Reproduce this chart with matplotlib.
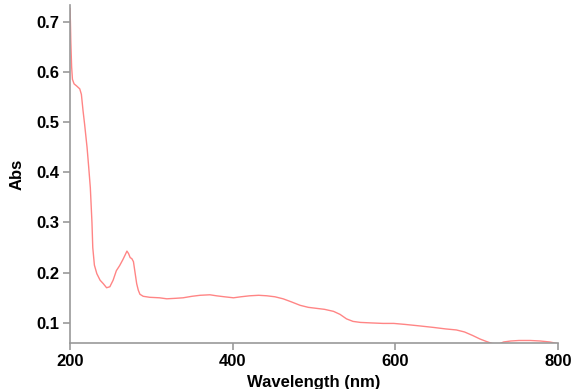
import matplotlib.pyplot as plt

plt.rcParams['font.family'] = ['Liberation Sans', 'DejaVu Sans']

# wavelength (nm) and absorbance
wavelength = [200, 200.5, 201, 202, 203, 205, 208, 212, 214, 216, 218, 221, 223,
              225, 227, 228, 230, 233, 237, 241, 245, 249, 253, 257, 261, 265,
              268, 270, 272, 274, 276, 278, 280, 282, 284, 286, 290, 298, 310,
              319, 330, 339, 350, 360, 372, 380, 390, 401, 410, 421, 432, 442,
              452, 462, 472, 483, 493, 503, 513, 524, 532, 540, 548, 557, 570,
              585, 598, 612, 630, 647, 662, 675, 685, 695, 704, 712, 719, 725,
              729, 733, 742, 752, 766, 778, 790, 799]
absorbance = [0.726, 0.70, 0.66, 0.61, 0.585, 0.576, 0.572, 0.566, 0.555, 0.523,
              0.495, 0.449, 0.41, 0.369, 0.30, 0.25, 0.215, 0.198, 0.185, 0.178,
              0.170, 0.172, 0.185, 0.204, 0.214, 0.226, 0.236, 0.243, 0.238,
              0.230, 0.228, 0.222, 0.20, 0.178, 0.165, 0.157, 0.153, 0.151,
              0.150, 0.148, 0.149, 0.150, 0.153, 0.155, 0.156, 0.154, 0.152,
              0.150, 0.152, 0.154, 0.155, 0.154, 0.152, 0.148, 0.142, 0.135,
              0.131, 0.129, 0.127, 0.123, 0.117, 0.108, 0.103, 0.101, 0.100,
              0.099, 0.099, 0.097, 0.094, 0.091, 0.088, 0.086, 0.082, 0.075,
              0.068, 0.063, 0.059, 0.057, 0.059, 0.062, 0.064, 0.065, 0.065,
              0.064, 0.062, 0.059]

fig = plt.figure(figsize=(5.72, 3.89), dpi=100)
ax = fig.add_axes([70 / 572, 46 / 389, 488 / 572, 338 / 389])

ax.plot(wavelength, absorbance, color='#ff8585', linewidth=1.0)

ax.set_xlim(200, 800)
ax.set_ylim(0.06, 0.733)
ax.set_xticks([200, 400, 600, 800])
ax.set_yticks([0.1, 0.2, 0.3, 0.4, 0.5, 0.6, 0.7])

for side in ['top', 'right']:
    ax.spines[side].set_visible(False)
for side in ['left', 'bottom']:
    ax.spines[side].set_color('#999999')
    ax.spines[side].set_linewidth(1.2)

ax.tick_params(axis='both', direction='out', length=5, width=1.2,
               color='#999999', labelsize=12, pad=3)
for lbl in ax.get_xticklabels() + ax.get_yticklabels():
    lbl.set_fontweight('bold')

ax.set_xlabel('Wavelength (nm)', fontsize=12, fontweight='bold', labelpad=4)
ax.set_ylabel('Abs', fontsize=12, fontweight='bold', labelpad=8)

fig.savefig('out.png', dpi=100)
